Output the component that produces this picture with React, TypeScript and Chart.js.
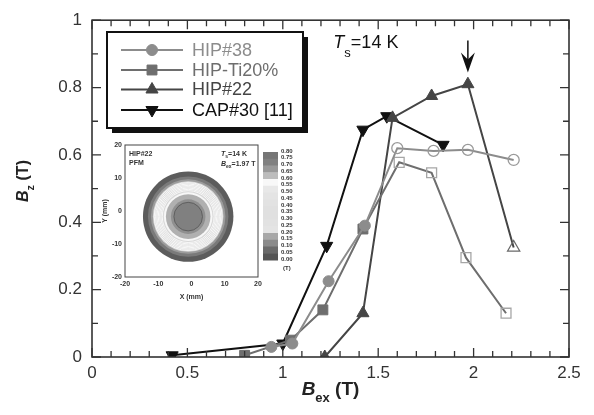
import React, { useEffect, useRef } from 'react';
import { Chart, registerables } from 'chart.js';
Chart.register(...registerables);

// ---------- main chart data ----------
const hip38X = [0.94, 1.05, 1.24, 1.43, 1.6, 1.79, 1.97, 2.21];
const hip38Y = [0.03, 0.04, 0.225, 0.39, 0.62, 0.612, 0.615, 0.585];
const hip38Open = [false, false, false, false, true, true, true, true];

const hipTiX = [0.8, 1.04, 1.21, 1.42, 1.61, 1.78, 1.96, 2.17];
const hipTiY = [0.005, 0.05, 0.14, 0.38, 0.578, 0.547, 0.295, 0.13];
const hipTiOpen = [false, false, false, false, true, true, true, true];

const hip22X = [1.22, 1.42, 1.575, 1.78, 1.97, 2.21];
const hip22Y = [0.0, 0.13, 0.71, 0.775, 0.81, 0.325];
const hip22Open = [false, false, false, false, false, true];

const cap30X = [0.42, 1.0, 1.23, 1.42, 1.545, 1.84];
const cap30Y = [0.005, 0.04, 0.33, 0.675, 0.715, 0.63];
const cap30Open = [false, false, false, false, false, false];

const seriesLabels = ['HIP#38', 'HIP-Ti20%', 'HIP#22', 'CAP#30 [11]'];
const xTickValues = [0, 0.5, 1, 1.5, 2, 2.5];
const xTickLabels = ['0', '0.5', '1', '1.5', '2', '2.5'];
const yTickValues = [0, 0.2, 0.4, 0.6, 0.8, 1];
const yTickLabels = ['0', '0.2', '0.4', '0.6', '0.8', '1'];
const arrowX = 1.97;
const arrowYFrom = 0.94;
const arrowYTo = 0.845;
const tsLabelAt = { x: 1.265, y: 0.918 };

// ---------- inset data ----------
const insetCenter = { x: -1, y: -1.7 };
const ringRadii = [13.6, 12.1, 11.2, 10.6, 7.3, 6.7, 5.2, 4.3];
const ringColors = ['#5c5c5c', '#7a7a7a', '#9c9c9c', '#d9d9d9', '#f7f7f7', '#b0b0b0', '#909090', '#808080'];
const whiteContours = [10.2, 9.8, 9.4, 9.0, 8.6, 8.2, 7.8];
const darkContours = [4.3];
const cbLabels = ['0.80', '0.75', '0.70', '0.65', '0.60', '0.55', '0.50', '0.45', '0.40', '0.35', '0.30', '0.25', '0.20', '0.15', '0.10', '0.05', '0.00'];
const cbColors = ['#767676', '#808080', '#999999', '#bcbcbc', '#f8f8f8', '#e8e8e8', '#e4e4e4', '#e2e2e2', '#e0e0e0', '#e0e0e0', '#e2e2e2', '#e4e4e4', '#a8a8a8', '#8a8a8a', '#6a6a6a', '#555555'];
const insetTicks = [-20, -10, 0, 10, 20];

const FONT = '"Liberation Sans", Arial, Helvetica, sans-serif';

const pts = (xs: number[], ys: number[]) => xs.map((x, i) => ({ x, y: ys[i] }));
const labelFor = (values: number[], labels: string[]) => (v: any) => {
  const i = values.findIndex((t) => Math.abs(t - Number(v)) < 1e-6);
  return i >= 0 ? labels[i] : '';
};

type Part = { t: string; font: string; dy?: number };
function richWidth(ctx: CanvasRenderingContext2D, parts: Part[]) {
  let w = 0;
  for (const p of parts) { ctx.font = p.font; w += ctx.measureText(p.t).width; }
  return w;
}
function drawRich(ctx: CanvasRenderingContext2D, parts: Part[], x: number, y: number, align: 'left' | 'center' = 'left') {
  let cx = align === 'center' ? x - richWidth(ctx, parts) / 2 : x;
  ctx.textAlign = 'left';
  ctx.textBaseline = 'alphabetic';
  for (const p of parts) {
    ctx.font = p.font;
    ctx.fillText(p.t, cx, y + (p.dy || 0));
    cx += ctx.measureText(p.t).width;
  }
}

const colors = ['#8c8c8c', '#6e6e6e', '#454545', '#111111'];
const openColors = ['#9a9a9a', '#a6a6a6', '#6a6a6a', '#111111'];
const styles: any[] = ['circle', 'rect', 'triangle', 'triangle'];
const radii = [5.5, 7, 7, 7];
const rotations = [0, 0, 0, 180];

function makeDataset(i: number, xs: number[], ys: number[], open: boolean[]) {
  return {
    label: seriesLabels[i],
    data: pts(xs, ys),
    showLine: true,
    borderColor: colors[i],
    borderWidth: 2,
    pointStyle: styles[i],
    pointRotation: rotations[i],
    pointRadius: radii[i],
    pointBackgroundColor: open.map((o) => (o ? 'rgba(255,255,255,0)' : colors[i])),
    pointBorderColor: open.map((o) => (o ? openColors[i] : colors[i])),
    pointBorderWidth: open.map((o) => (o ? 1.3 : 1)),
  };
}

function drawPointShape(ctx: CanvasRenderingContext2D, style: string, r: number, rot: number, x: number, y: number) {
  ctx.beginPath();
  if (style === 'circle') {
    ctx.arc(x, y, r, 0, Math.PI * 2);
  } else if (style === 'rect') {
    const s = r * Math.SQRT1_2;
    ctx.rect(x - s, y - s, 2 * s, 2 * s);
  } else {
    const a = (rot * Math.PI) / 180;
    for (let k = 0; k < 3; k++) {
      const ang = a - Math.PI / 2 + (k * 2 * Math.PI) / 3;
      const px = x + Math.cos(ang) * r;
      const py = y + Math.sin(ang) * r;
      if (k === 0) ctx.moveTo(px, py); else ctx.lineTo(px, py);
    }
    ctx.closePath();
  }
  ctx.fill();
  ctx.stroke();
}

const mainPlugin = {
  id: 'mainDecor',
  afterDraw(chart: any) {
    const { ctx, chartArea: a, scales } = chart;
    const xs = scales.x, ys = scales.y;
    ctx.save();
    ctx.strokeStyle = '#333';
    ctx.lineWidth = 1.6;
    ctx.strokeRect(a.left, a.top, a.right - a.left, a.bottom - a.top);
    ctx.lineWidth = 1.3;
    ctx.beginPath();
    for (let k = 0; k <= 25; k++) {
      const px = xs.getPixelForValue(k / 10);
      const len = k % 5 === 0 ? 9 : 6;
      ctx.moveTo(px, a.bottom); ctx.lineTo(px, a.bottom - len);
      ctx.moveTo(px, a.top); ctx.lineTo(px, a.top + len);
    }
    for (let k = 0; k <= 10; k++) {
      const py = ys.getPixelForValue(k / 10);
      const len = k % 2 === 0 ? 9 : 6;
      ctx.moveTo(a.left, py); ctx.lineTo(a.left + len, py);
      ctx.moveTo(a.right, py); ctx.lineTo(a.right - len, py);
    }
    ctx.stroke();

    ctx.fillStyle = '#222';
    drawRich(ctx, [
      { t: 'B', font: `italic bold 19px ${FONT}` },
      { t: 'ex', font: `bold 13px ${FONT}`, dy: 7 },
      { t: ' (T)', font: `bold 19px ${FONT}` },
    ], (a.left + a.right) / 2, 395, 'center');
    ctx.save();
    ctx.translate(27.5, 181);
    ctx.rotate(-Math.PI / 2);
    drawRich(ctx, [
      { t: 'B', font: `italic bold 16px ${FONT}` },
      { t: 'z', font: `bold 11px ${FONT}`, dy: 6 },
      { t: ' (T)', font: `bold 16px ${FONT}` },
    ], 0, 0, 'center');
    ctx.restore();

    ctx.fillStyle = '#111';
    drawRich(ctx, [
      { t: 'T', font: `italic 18px ${FONT}` },
      { t: 's', font: `13px ${FONT}`, dy: 9 },
      { t: '=14 K', font: `18px ${FONT}` },
    ], xs.getPixelForValue(tsLabelAt.x), ys.getPixelForValue(tsLabelAt.y));

    const ax = xs.getPixelForValue(arrowX);
    const ay0 = ys.getPixelForValue(arrowYFrom);
    const ay1 = ys.getPixelForValue(arrowYTo);
    ctx.strokeStyle = '#111';
    ctx.lineWidth = 1.5;
    ctx.beginPath();
    ctx.moveTo(ax, ay0); ctx.lineTo(ax, ay1 - 8);
    ctx.stroke();
    ctx.fillStyle = '#111';
    ctx.beginPath();
    ctx.moveTo(ax, ay1);
    ctx.lineTo(ax - 7, ay1 - 20);
    ctx.lineTo(ax, ay1 - 13);
    ctx.lineTo(ax + 7, ay1 - 20);
    ctx.closePath();
    ctx.fill();

    const bx = 107, by = 32, bw = 196, bh = 96;
    ctx.fillStyle = '#111';
    ctx.fillRect(bx + 5, by + 5, bw, bh);
    ctx.fillStyle = '#fff';
    ctx.fillRect(bx, by, bw, bh);
    ctx.strokeStyle = '#111';
    ctx.lineWidth = 2;
    ctx.strokeRect(bx, by, bw, bh);
    const rows = [50, 70, 89.5, 110];
    chart.data.datasets.forEach((ds: any, i: number) => {
      const y = rows[i];
      ctx.strokeStyle = colors[i];
      ctx.lineWidth = 2;
      ctx.beginPath();
      ctx.moveTo(121, y); ctx.lineTo(183, y);
      ctx.stroke();
      ctx.fillStyle = colors[i];
      ctx.strokeStyle = colors[i];
      ctx.lineWidth = 1;
      drawPointShape(ctx, styles[i], radii[i], rotations[i], 152, y);
      ctx.fillStyle = colors[i];
      ctx.font = `18px ${FONT}`;
      ctx.textAlign = 'left';
      ctx.textBaseline = 'middle';
      ctx.fillText(ds.label, 192, y + 1);
    });
    ctx.restore();
  },
};

const insetPlugin = {
  id: 'insetDecor',
  beforeDatasetsDraw(chart: any) {
    const { ctx, chartArea: a, scales } = chart;
    const xs = scales.x, ys = scales.y;
    const cx = xs.getPixelForValue(insetCenter.x);
    const cy = ys.getPixelForValue(insetCenter.y);
    const rp = (r: number) => xs.getPixelForValue(insetCenter.x + r) - cx;
    ctx.save();
    ctx.beginPath();
    ctx.rect(a.left, a.top, a.right - a.left, a.bottom - a.top);
    ctx.clip();
    ringRadii.forEach((r, i) => {
      ctx.fillStyle = ringColors[i];
      ctx.beginPath();
      ctx.arc(cx, cy, rp(r), 0, Math.PI * 2);
      ctx.fill();
    });
    ctx.strokeStyle = '#ffffff';
    ctx.lineWidth = 0.8;
    whiteContours.forEach((r) => {
      ctx.beginPath();
      ctx.arc(cx, cy, rp(r), 0, Math.PI * 2);
      ctx.stroke();
    });
    ctx.strokeStyle = '#555';
    darkContours.forEach((r) => {
      ctx.beginPath();
      ctx.arc(cx, cy, rp(r), 0, Math.PI * 2);
      ctx.stroke();
    });
    ctx.restore();
  },
  afterDraw(chart: any) {
    const { ctx, chartArea: a } = chart;
    ctx.save();
    ctx.strokeStyle = '#444';
    ctx.lineWidth = 1;
    ctx.strokeRect(a.left, a.top, a.right - a.left, a.bottom - a.top);
    ctx.fillStyle = '#333';
    ctx.font = `bold 7px ${FONT}`;
    ctx.textAlign = 'left';
    ctx.textBaseline = 'alphabetic';
    ctx.fillText('HIP#22', a.left + 4, a.top + 11);
    ctx.fillText('PFM', a.left + 4, a.top + 20);
    drawRich(ctx, [
      { t: 'T', font: `italic bold 7px ${FONT}` },
      { t: 's', font: `bold 5px ${FONT}`, dy: 2 },
      { t: '=14 K', font: `bold 7px ${FONT}` },
    ], a.left + 96, a.top + 11);
    drawRich(ctx, [
      { t: 'B', font: `italic bold 7px ${FONT}` },
      { t: 'ex', font: `bold 5px ${FONT}`, dy: 2 },
      { t: '=1.97 T', font: `bold 7px ${FONT}` },
    ], a.left + 96, a.top + 21);
    const left = a.right + 5, w = 15, top = a.top + 7, h = 108;
    const step = h / cbColors.length;
    cbColors.forEach((c, i) => {
      ctx.fillStyle = c;
      ctx.fillRect(left, top + i * step, w, step + 0.5);
    });
    ctx.fillStyle = '#333';
    ctx.font = `bold 6px ${FONT}`;
    ctx.textBaseline = 'middle';
    cbLabels.forEach((l, i) => {
      ctx.fillText(l, left + w + 3, top + i * step - 1);
    });
    ctx.fillText('(T)', left + w + 5, top + h + 8);
    ctx.font = `bold 7px ${FONT}`;
    ctx.textAlign = 'center';
    ctx.textBaseline = 'alphabetic';
    ctx.fillText('X (mm)', (a.left + a.right) / 2, a.bottom + 22);
    ctx.save();
    ctx.translate(a.left - 18, (a.top + a.bottom) / 2);
    ctx.rotate(-Math.PI / 2);
    ctx.fillText('Y (mm)', 0, 0);
    ctx.restore();
    ctx.restore();
  },
};

export default function App() {
  const mainRef = useRef<HTMLCanvasElement>(null);
  const insetRef = useRef<HTMLCanvasElement>(null);

  useEffect(() => {
    const tickFont = { family: FONT, size: 17 };
    const main = new Chart(mainRef.current as HTMLCanvasElement, {
      type: 'scatter',
      data: {
        datasets: [
          makeDataset(0, hip38X, hip38Y, hip38Open),
          makeDataset(1, hipTiX, hipTiY, hipTiOpen),
          makeDataset(2, hip22X, hip22Y, hip22Open),
          makeDataset(3, cap30X, cap30Y, cap30Open),
        ] as any,
      },
      options: {
        animation: false,
        responsive: false,
        maintainAspectRatio: false,
        layout: { padding: { left: 0, right: 25, top: 16, bottom: 0 } },
        plugins: { legend: { display: false }, tooltip: { enabled: false } },
        scales: {
          x: {
            type: 'linear', min: 0, max: 2.5,
            afterBuildTicks: (s: any) => { s.ticks = xTickValues.map((v) => ({ value: v })); },
            ticks: { font: tickFont, color: '#333', padding: 6, maxRotation: 0, callback: labelFor(xTickValues, xTickLabels) },
            grid: { display: false, drawTicks: false },
            border: { display: false },
            afterFit: (s: any) => { s.height = 58; },
          },
          y: {
            type: 'linear', min: 0, max: 1,
            afterBuildTicks: (s: any) => { s.ticks = yTickValues.map((v) => ({ value: v })); },
            ticks: { font: tickFont, color: '#333', padding: 10, callback: labelFor(yTickValues, yTickLabels) },
            grid: { display: false, drawTicks: false },
            border: { display: false },
            afterFit: (s: any) => { s.width = 92; },
          },
        },
      } as any,
      plugins: [mainPlugin],
    });

    const insetFont = { family: FONT, size: 7, weight: 'bold' as const };
    const inset = new Chart(insetRef.current as HTMLCanvasElement, {
      type: 'scatter',
      data: { datasets: [{ data: [] }] },
      options: {
        animation: false,
        responsive: false,
        maintainAspectRatio: false,
        layout: { padding: { left: 0, right: 42, top: 10, bottom: 0 } },
        plugins: { legend: { display: false }, tooltip: { enabled: false } },
        scales: {
          x: {
            type: 'linear', min: -20, max: 20,
            afterBuildTicks: (s: any) => { s.ticks = insetTicks.map((v) => ({ value: v })); },
            ticks: { font: insetFont, color: '#333', padding: 3, maxRotation: 0 },
            grid: { display: false, drawTicks: false },
            border: { display: false },
            afterFit: (s: any) => { s.height = 30; },
          },
          y: {
            type: 'linear', min: -20, max: 20,
            afterBuildTicks: (s: any) => { s.ticks = insetTicks.map((v) => ({ value: v })); },
            ticks: { font: insetFont, color: '#333', padding: 3 },
            grid: { display: false, drawTicks: false },
            border: { display: false },
            afterFit: (s: any) => { s.width = 30; },
          },
        },
      } as any,
      plugins: [insetPlugin],
    });

    return () => { main.destroy(); inset.destroy(); };
  }, []);

  return (
    <div style={{ position: 'fixed', left: 0, top: 0, width: 594, height: 415, background: '#fff' }}>
      <canvas ref={mainRef} width={594} height={415} style={{ position: 'absolute', left: 0, top: 0, width: 594, height: 415 }} />
      <canvas ref={insetRef} width={205} height={172} style={{ position: 'absolute', left: 95, top: 135, width: 205, height: 172 }} />
    </div>
  );
}
